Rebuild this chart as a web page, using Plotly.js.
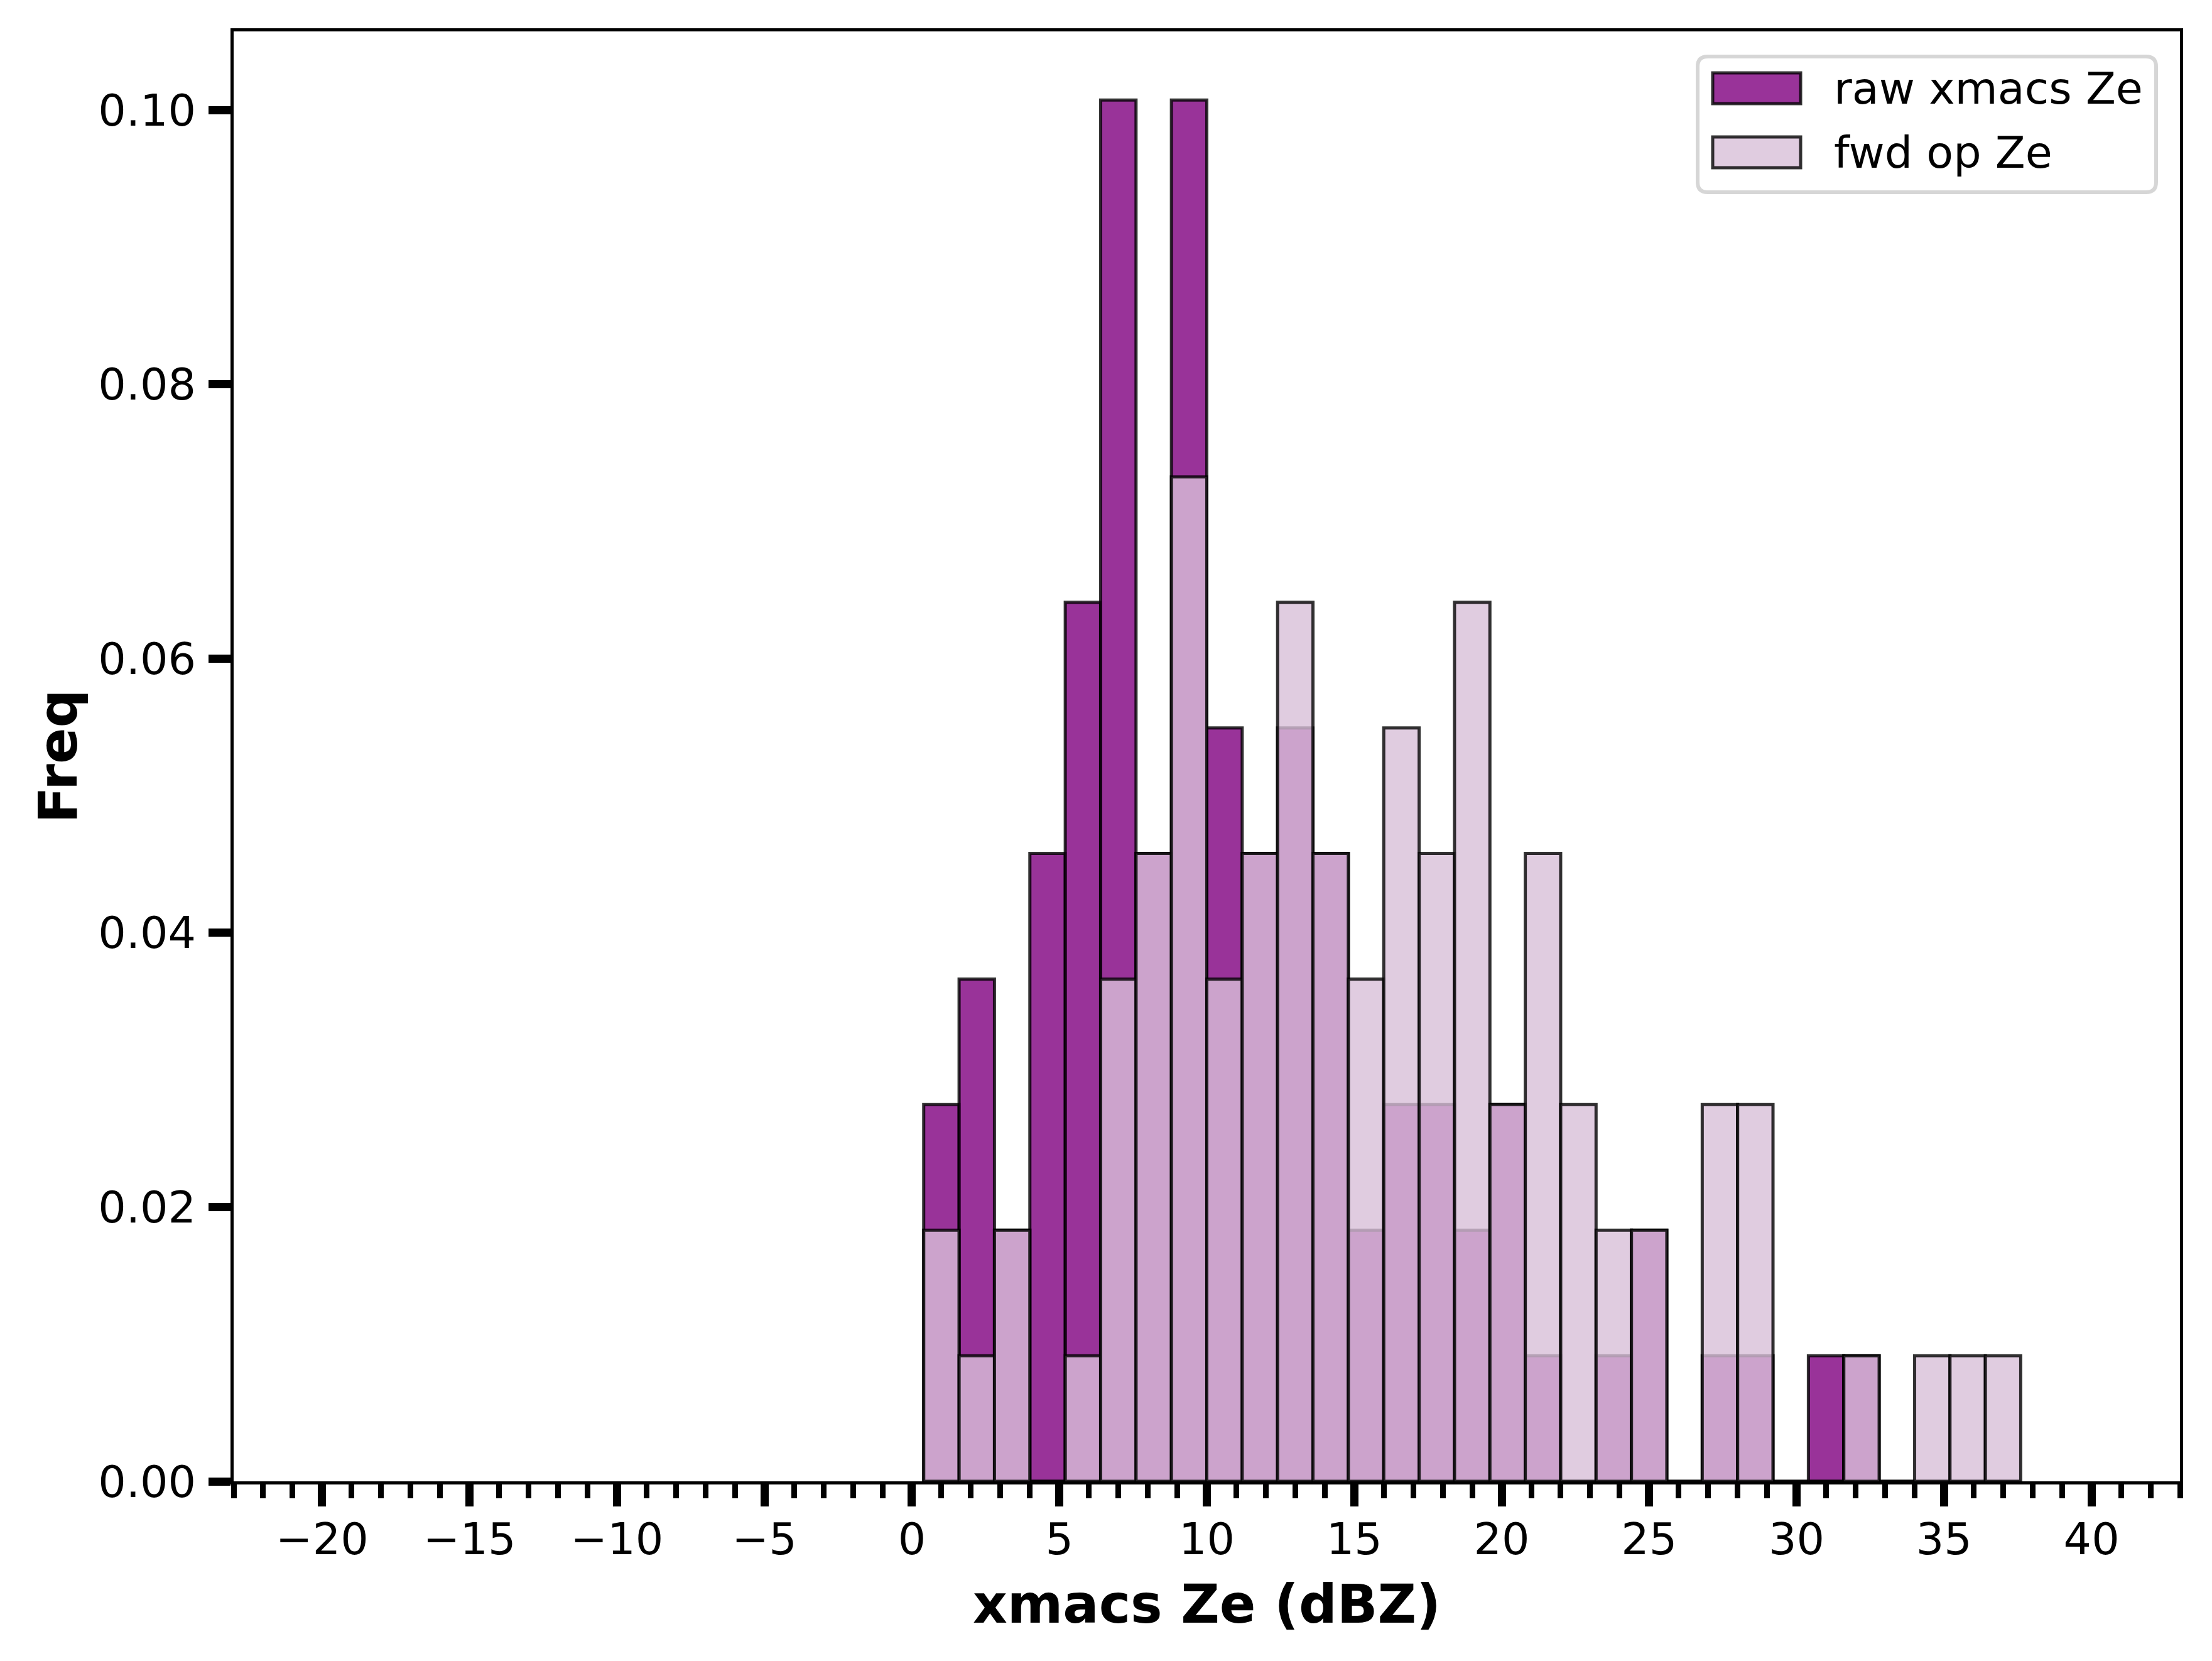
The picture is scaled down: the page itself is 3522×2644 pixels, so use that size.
<!DOCTYPE html>
<html>
<head>
<meta charset="utf-8">
<script src="https://cdn.plot.ly/plotly-3.0.1.min.js"></script>
<style>
  html, body { margin: 0; padding: 0; background: #fff; }
  #chart { width: 3522px; height: 2644px; }
</style>
</head>
<body>
<div id="chart"></div>
<script>
// histogram bins: -20 .. 40 dBZ, width 1.2 (only the non-empty range is listed)
var binWidth = 1.2;
var binCenters = [1.0, 2.2, 3.4, 4.6, 5.8, 7.0, 8.2, 9.4, 10.6, 11.8, 13.0, 14.2, 15.4, 16.6, 17.8,
                  19.0, 20.2, 21.4, 22.6, 23.8, 25.0, 26.2, 27.4, 28.6, 29.8, 31.0, 32.2, 33.4, 34.6, 35.8, 37.0];

// counts per bin
var rawCounts = [3, 4, 2, 5, 7, 11, 5, 11, 6, 5, 6, 5, 2, 3, 3,
                 2, 3, 1, 0, 1, 2, 0, 1, 1, 0, 1, 1, 0, 0, 0, 0];
var fwdCounts = [2, 1, 2, 0, 1, 4, 5, 8, 4, 5, 7, 5, 4, 6, 5,
                 7, 3, 5, 3, 2, 2, 0, 3, 3, 0, 0, 1, 0, 1, 1, 1];

var seriesNames = ['raw xmacs Ze', 'fwd op Ze'];
var xTickVals = [-20, -15, -10, -5, 0, 5, 10, 15, 20, 25, 30, 35, 40];
var yTickVals = [0, 0.02, 0.04, 0.06, 0.08, 0.10];

function density(counts) {
  var n = counts.reduce(function (a, b) { return a + b; }, 0);
  return counts.map(function (c) { return c / (n * binWidth); });
}

var rawColor = 'rgba(128,0,128,0.8)';
var fwdColor = 'rgba(216,191,216,0.8)';
var edgeColor = 'rgba(0,0,0,0.8)';

var trace1 = {
  type: 'bar',
  x: binCenters,
  y: density(rawCounts),
  width: binWidth,
  name: seriesNames[0],
  marker: { color: rawColor, line: { color: edgeColor, width: 5 } },
  hoverinfo: 'x+y'
};

var trace2 = {
  type: 'bar',
  x: binCenters,
  y: density(fwdCounts),
  width: binWidth,
  name: seriesNames[1],
  marker: { color: fwdColor, line: { color: edgeColor, width: 5 } },
  hoverinfo: 'x+y'
};

// plot area in pixels
var plotL = 372, plotR = 3471, plotT = 50, plotB = 2358;
function px(x) { return (x - plotL) / (plotR - plotL); }
function py(y) { return (plotB - y) / (plotB - plotT); }

// hand made legend (matplotlib style swatches)
function roundBox(x0, y0, x1, y1, r) {
  var rx = r / (plotR - plotL), ry = r / (plotB - plotT);
  var a = px(x0), b = px(x1), t = py(y0), u = py(y1);
  return 'M' + (a + rx) + ',' + t +
    ' L' + (b - rx) + ',' + t + ' Q' + b + ',' + t + ' ' + b + ',' + (t - ry) +
    ' L' + b + ',' + (u + ry) + ' Q' + b + ',' + u + ' ' + (b - rx) + ',' + u +
    ' L' + (a + rx) + ',' + u + ' Q' + a + ',' + u + ' ' + a + ',' + (u + ry) +
    ' L' + a + ',' + (t - ry) + ' Q' + a + ',' + t + ' ' + (a + rx) + ',' + t + ' Z';
}

var shapes = [
  { type: 'path', xref: 'paper', yref: 'paper', path: roundBox(2703, 90, 3433, 306, 16),
    fillcolor: 'rgba(255,255,255,0.8)', line: { color: 'rgba(204,204,204,0.8)', width: 6 } },
  { type: 'rect', xref: 'paper', yref: 'paper', x0: px(2727), x1: px(2867), y0: py(116), y1: py(165),
    fillcolor: rawColor, line: { color: edgeColor, width: 5 } },
  { type: 'rect', xref: 'paper', yref: 'paper', x0: px(2727), x1: px(2867), y0: py(218), y1: py(267),
    fillcolor: fwdColor, line: { color: edgeColor, width: 5 } }
];

var annotations = [
  { xref: 'paper', yref: 'paper', x: px(2918), y: py(141), xanchor: 'left', yanchor: 'middle',
    text: seriesNames[0], showarrow: false, font: { family: 'DejaVu Sans', size: 70, color: '#000' } },
  { xref: 'paper', yref: 'paper', x: px(2918), y: py(243), xanchor: 'left', yanchor: 'middle',
    text: seriesNames[1], showarrow: false, font: { family: 'DejaVu Sans', size: 70, color: '#000' } }
];

var layout = {
  width: 3522,
  height: 2644,
  margin: { l: plotL, r: 3522 - plotR, t: plotT, b: 2644 - plotB, pad: 0 },
  paper_bgcolor: '#fff',
  plot_bgcolor: '#fff',
  barmode: 'overlay',
  bargap: 0,
  showlegend: false,
  font: { family: 'DejaVu Sans', size: 70, color: '#000' },
  xaxis: {
    range: [-23, 43],
    tickvals: xTickVals,
    ticks: 'outside',
    ticklen: 35,
    tickwidth: 13,
    tickcolor: '#000',
    ticklabelstandoff: -8,
    minor: { dtick: 1, tick0: 0, ticks: 'outside', ticklen: 22, tickwidth: 9, tickcolor: '#000', showgrid: false },
    showgrid: false,
    zeroline: false,
    showline: true,
    mirror: true,
    linecolor: '#000',
    linewidth: 5,
    tickfont: { family: 'DejaVu Sans', size: 70, color: '#000' },
    title: { text: '<b>xmacs Ze (dBZ)</b>', font: { family: 'DejaVu Sans', size: 85, color: '#000' }, standoff: 35 }
  },
  yaxis: {
    range: [0, 0.10574],
    tickvals: yTickVals,
    tickformat: '.2f',
    ticks: 'outside',
    ticklen: 35,
    tickwidth: 13,
    tickcolor: '#000',
    ticklabelstandoff: 6,
    showgrid: false,
    zeroline: false,
    showline: true,
    mirror: true,
    linecolor: '#000',
    linewidth: 5,
    tickfont: { family: 'DejaVu Sans', size: 70, color: '#000' },
    title: { text: '<b>Freq</b>', font: { family: 'DejaVu Sans', size: 85, color: '#000' }, standoff: 7 }
  },
  shapes: shapes,
  annotations: annotations
};

var data = [trace1, trace2];

Plotly.newPlot('chart', data, layout, { displayModeBar: false, responsive: false, staticPlot: true });
</script>
</body>
</html>
